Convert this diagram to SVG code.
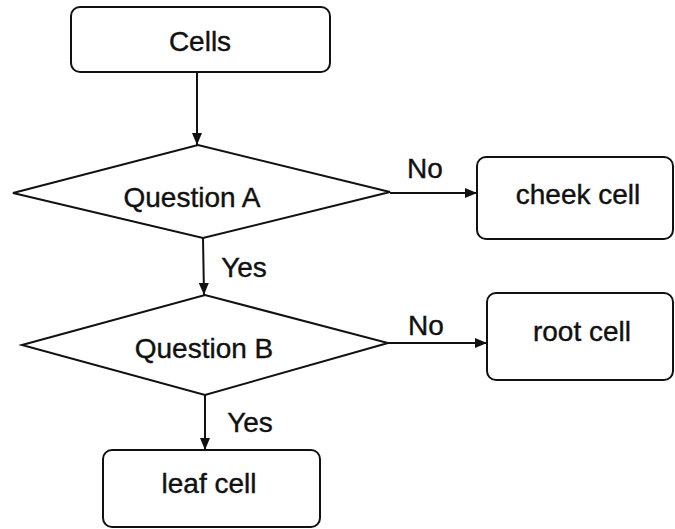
<svg xmlns="http://www.w3.org/2000/svg" width="675" height="529" viewBox="0 0 675 529">
<style>
.box{fill:#fff;stroke:#111;stroke-width:2}
.dia{fill:#fff;stroke:#111;stroke-width:2;stroke-linejoin:miter}
.lbl{font-family:"Liberation Sans",Arial,sans-serif;font-size:28px;fill:#111;stroke:#111;stroke-width:0.4;text-anchor:middle}
.edge{stroke:#111;stroke-width:2;fill:none;marker-end:url(#arr)}
</style>
<defs>
<marker id="arr" viewBox="0 0 12 10" refX="12" refY="5" markerWidth="12" markerHeight="10" markerUnits="userSpaceOnUse" orient="auto">
<path d="M0,0 L12,5 L0,10 Z" fill="#111"/>
</marker>
</defs>
<rect width="675" height="529" fill="#fff"/>
<g id="connectors">
<line class="edge" x1="197" y1="72" x2="197" y2="145"/>
<line class="edge" x1="390" y1="193" x2="477" y2="193"/>
<line class="edge" x1="203" y1="238" x2="204" y2="295"/>
<line class="edge" x1="388" y1="343" x2="487" y2="343"/>
<line class="edge" x1="205" y1="395" x2="205" y2="450"/>
<text class="lbl" x="425" y="178">No</text>
<text class="lbl" x="426" y="335">No</text>
<text class="lbl" x="244" y="277">Yes</text>
<text class="lbl" x="250" y="432">Yes</text>
</g>
<g id="cells">
<rect class="box" x="71" y="7" width="259" height="65" rx="9"/>
<text class="lbl" x="200" y="51">Cells</text>
</g>
<g id="questionA">
<polygon class="dia" points="13,193 198,145 390,192 203,238"/>
<text class="lbl" x="192" y="207">Question A</text>
</g>
<g id="cheek">
<rect class="box" x="477" y="157" width="196" height="82" rx="9"/>
<text class="lbl" x="578" y="204">cheek cell</text>
</g>
<g id="questionB">
<polygon class="dia" points="22,345 205,295 388,343 205,395"/>
<text class="lbl" x="204" y="358">Question B</text>
</g>
<g id="root">
<rect class="box" x="487" y="293" width="186" height="87" rx="9"/>
<text class="lbl" x="582" y="341">root cell</text>
</g>
<g id="leaf">
<rect class="box" x="103" y="450" width="217" height="77" rx="9"/>
<text class="lbl" x="209" y="493">leaf cell</text>
</g>
</svg>
